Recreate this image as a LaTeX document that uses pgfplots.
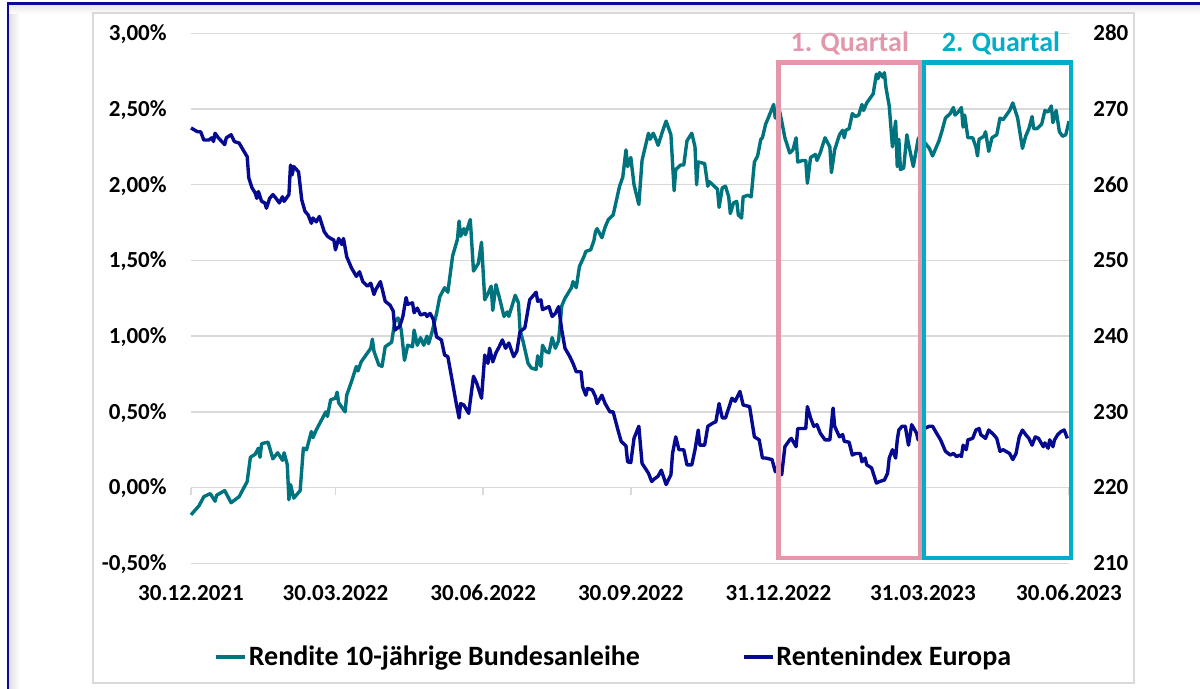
\documentclass[border=0pt]{standalone}
\usepackage{fontspec}
\setmainfont{Carlito}
\usepackage{pgfplots}
\usepackage{pgfplotstable}
\pgfplotsset{compat=1.18}

\definecolor{rendite}{RGB}{0,116,126}
\definecolor{renten}{RGB}{5,10,145}
\definecolor{qone}{RGB}{226,152,170}
\definecolor{qtwo}{RGB}{0,174,200}
\definecolor{gridc}{RGB}{217,217,217}
\definecolor{framec}{RGB}{10,10,150}

\newcommand{\tickfont}{\bfseries\fontsize{11.5}{13}\selectfont}

% days since 30.12.2021, yield in percent
\pgfplotstableread{
day val
0 -0.18
5 -0.12
8 -0.06
12 -0.04
15 -0.09
16 -0.05
21 -0.02
25 -0.10
30 -0.06
35 0.04
37 0.20
40 0.22
42 0.26
43 0.20
44 0.29
48 0.30
51 0.19
54 0.23
57 0.18
58 0.23
60 0.15
61 -0.08
62 0.02
64 -0.07
68 -0.02
70 0.26
72 0.25
75 0.37
76 0.33
78 0.38
84 0.50
85 0.47
87 0.58
90 0.59
91 0.63
92 0.56
96 0.50
97 0.61
100 0.70
103 0.80
104 0.77
106 0.83
112 0.92
113 0.98
114 0.90
117 0.81
119 0.80
121 0.93
125 0.96
127 1.10
129 1.12
131 1.04
133 0.84
135 0.94
138 0.93
139 1.04
141 0.94
143 0.99
145 0.94
147 1.00
148 0.95
150 1.02
153 1.15
155 1.26
158 1.32
160 1.29
163 1.53
166 1.64
167 1.76
168 1.66
170 1.71
171 1.67
174 1.77
176 1.43
179 1.48
181 1.62
183 1.24
185 1.28
187 1.33
188 1.17
190 1.34
192 1.26
195 1.13
197 1.16
198 1.13
202 1.27
204 1.22
205 1.04
207 0.96
210 0.82
212 0.79
215 0.78
216 0.87
218 0.80
219 0.94
221 0.90
223 0.89
225 0.99
227 0.92
229 0.97
231 1.20
233 1.25
237 1.32
238 1.36
240 1.32
242 1.46
245 1.53
246 1.56
249 1.57
251 1.63
252 1.69
253 1.71
256 1.65
258 1.72
260 1.77
263 1.80
267 1.99
269 2.05
271 2.23
272 2.12
274 2.18
276 2.00
279 1.87
281 2.16
285 2.34
286 2.30
288 2.34
290 2.29
291 2.26
294 2.36
296 2.42
299 2.33
301 1.96
302 2.10
305 2.13
307 2.13
309 2.29
312 2.34
314 2.25
315 2.00
316 2.15
320 2.14
322 1.99
323 2.02
326 1.99
328 1.97
329 1.85
331 1.98
333 1.99
335 1.92
336 1.81
338 1.88
340 1.89
341 1.80
343 1.78
344 1.92
347 1.93
349 1.92
351 2.15
353 2.19
355 2.30
356 2.31
358 2.40
360 2.45
363 2.53
364 2.44
366 2.52
368 2.42
370 2.31
373 2.21
375 2.23
377 2.31
378 2.15
381 2.16
383 2.16
384 2.01
386 2.18
389 2.20
390 2.16
392 2.21
395 2.31
398 2.25
399 2.08
401 2.23
404 2.33
406 2.36
407 2.31
408 2.36
410 2.37
412 2.47
414 2.45
416 2.46
418 2.53
419 2.49
421 2.54
423 2.57
425 2.60
427 2.73
428 2.70
429 2.74
431 2.71
432 2.74
433 2.64
435 2.52
437 2.25
439 2.42
440 2.12
441 2.30
442 2.10
444 2.11
446 2.33
447 2.27
450 2.12
453 2.30
454 2.32
457 2.28
460 2.24
462 2.19
466 2.29
468 2.36
470 2.44
473 2.47
475 2.51
476 2.46
478 2.48
480 2.51
481 2.38
482 2.46
484 2.31
487 2.31
489 2.25
490 2.19
491 2.30
494 2.32
495 2.35
497 2.22
499 2.31
502 2.33
504 2.44
506 2.43
508 2.46
510 2.49
512 2.54
515 2.44
518 2.24
520 2.32
522 2.37
524 2.45
525 2.37
527 2.37
530 2.40
532 2.49
534 2.48
536 2.52
537 2.41
539 2.49
541 2.35
543 2.32
545 2.33
547 2.42
}\renditetab

% days since 30.12.2021, index level
\pgfplotstableread{
day val
0 267.5
4 267.0
6 267.0
8 265.9
11 265.9
13 266.2
14 265.7
15 266.8
17 266.2
21 265.3
22 266.2
25 266.6
27 265.7
30 265.5
33 264.4
35 263.7
36 260.9
38 259.6
40 258.9
41 258.2
42 259.1
44 257.8
46 257.6
47 256.9
49 258.2
51 258.7
53 258.2
55 257.6
57 258.4
58 257.8
61 258.7
62 262.6
63 261.3
64 262.4
67 261.7
69 258.0
71 256.5
73 256.0
75 254.9
76 255.6
78 255.1
80 255.8
83 253.8
85 253.2
87 252.9
89 252.7
90 251.4
92 252.9
94 252.1
95 252.9
97 250.5
100 249.0
103 247.9
105 248.5
107 247.2
110 246.6
112 247.0
114 245.5
115 246.1
118 247.2
121 244.6
124 244.1
126 243.3
127 240.8
130 241.3
132 242.6
134 245.1
135 244.2
138 244.4
139 243.1
141 243.7
143 242.8
146 243.0
147 242.6
149 243.0
151 242.2
153 239.9
156 239.5
158 237.5
160 237.3
163 233.8
165 231.4
167 229.2
168 231.1
170 230.9
173 229.8
176 234.7
178 233.8
181 231.8
183 237.5
185 236.4
186 238.4
188 236.6
190 237.8
192 238.6
194 239.5
196 238.4
198 239.1
201 237.3
203 238.0
205 240.6
208 241.1
211 244.8
215 245.8
216 244.6
218 244.8
219 243.5
222 243.8
223 243.9
225 242.6
227 243.0
229 243.9
231 240.8
233 238.4
236 237.3
238 236.4
240 235.3
243 235.3
244 233.3
246 232.2
247 233.1
250 232.9
252 232.0
253 231.1
256 232.2
258 231.1
261 230.0
263 230.0
266 227.6
268 226.1
271 225.5
272 223.4
274 223.3
276 226.5
279 228.1
281 223.2
285 221.9
287 220.8
289 221.2
291 221.5
293 222.3
296 220.4
299 221.7
300 224.5
302 226.7
304 225.0
307 225.0
309 223.0
312 223.0
314 225.0
316 227.6
317 225.6
320 225.6
322 228.1
325 228.5
327 228.7
329 231.1
331 229.2
333 229.2
335 230.5
337 231.8
339 231.4
342 232.7
344 230.9
348 230.7
351 226.7
354 226.3
356 223.9
358 223.9
362 223.7
364 222.1
366 223.0
368 221.7
370 225.4
373 226.3
374 226.5
377 225.4
378 227.8
381 227.8
383 227.8
384 230.7
386 229.2
388 228.1
390 228.3
392 227.2
395 226.3
398 226.3
400 230.5
401 228.1
404 226.7
406 227.0
407 226.1
410 226.0
412 224.3
414 224.5
417 224.5
418 223.4
420 223.9
421 223.0
424 222.6
427 220.6
429 220.8
432 221.0
434 221.9
435 223.9
437 225.0
439 223.9
440 226.3
441 227.6
443 228.1
445 228.1
447 225.6
449 228.3
452 227.2
453 226.3
454 227.0
457 227.8
460 228.1
462 228.1
465 227.0
467 226.3
470 224.8
473 224.3
475 224.5
477 224.1
479 224.3
480 224.1
481 225.6
483 225.0
484 226.3
487 226.5
489 227.6
491 227.8
492 227.0
495 226.5
497 227.6
500 227.0
502 226.5
504 224.8
506 225.0
510 224.5
512 223.7
514 224.5
516 226.7
518 227.6
520 227.0
522 226.5
524 225.6
526 226.7
528 226.5
531 225.4
532 225.9
534 225.2
535 226.3
537 225.4
538 226.3
540 227.0
542 227.4
544 227.6
546 226.5
}\rententab

\pgfplotsset{
  base/.style={
    scale only axis, width=439pt, height=265pt,
    at={(95.5pt,62.85pt)}, anchor=south west,
    xmin=0, xmax=547, clip=false,
    axis line style={draw=none}, tick style={draw=none},
    tick label style={font=\tickfont},
  }
}

\begin{document}
\begin{tikzpicture}
\path[use as bounding box] (0,0) rectangle (600pt,344.5pt);
\fill[white] (0,0) rectangle (600pt,344.5pt);
% outer frame and shadow
\shade[left color=black!12, right color=white] (4.5pt,0) rectangle (10pt,342pt);
\shade[top color=black!10, bottom color=white] (4.5pt,337.5pt) rectangle (600pt,342pt);
\draw[framec, line width=1.3pt] (4pt,0) -- (4pt,342.6pt) -- (600pt,342.6pt);
\draw[black!15, line width=0.6pt] (46.5pt,3pt) rectangle (567pt,338pt);

\begin{axis}[base,
  ymin=-0.5, ymax=3,
  ytick={-0.5,0,0.5,1,1.5,2,2.5,3},
  yticklabels={{-0,50\%},{0,00\%},{0,50\%},{1,00\%},{1,50\%},{2,00\%},{2,50\%},{3,00\%}},
  ymajorgrids, major grid style={gridc, line width=0.75pt},
  xtick={0,90,182,274,366,456,547},
  xticklabels={30.12.2021,30.03.2022,30.06.2022,30.09.2022,31.12.2022,31.03.2023,30.06.2023},
  xticklabel style={anchor=base, yshift=-18.5pt, inner sep=0pt},
  yticklabel style={anchor=base east, xshift=-12pt, yshift=-3.7pt, inner sep=0pt},
]
\draw[gridc, line width=0.75pt] (axis cs:0,0) -- (axis cs:547,0);
\draw[gridc, line width=0.75pt] (axis cs:0,0) -- ++(0pt,-3.5pt);
\draw[gridc, line width=0.75pt] (axis cs:90,0) -- ++(0pt,-3.5pt);
\draw[gridc, line width=0.75pt] (axis cs:182,0) -- ++(0pt,-3.5pt);
\draw[gridc, line width=0.75pt] (axis cs:274,0) -- ++(0pt,-3.5pt);
\draw[gridc, line width=0.75pt] (axis cs:366,0) -- ++(0pt,-3.5pt);
\draw[gridc, line width=0.75pt] (axis cs:456,0) -- ++(0pt,-3.5pt);
\draw[gridc, line width=0.75pt] (axis cs:547,0) -- ++(0pt,-3.5pt);
\addplot[rendite, line width=1.7pt, line join=round] table[x=day, y=val] {\renditetab};
\end{axis}

\begin{axis}[base,
  ymin=210, ymax=280,
  ytick={210,220,230,240,250,260,270,280},
  yticklabels={210,220,230,240,250,260,270,280},
  yticklabel pos=right, xtick=\empty,
  yticklabel style={anchor=base west, xshift=12pt, yshift=-3.7pt, inner sep=0pt},
  legend columns=2,
  legend cell align=left,
  legend image code/.code={\draw[#1] (0pt,0pt) -- (14.5pt,0pt);},
  legend style={draw=none, fill=none, at={(0.0262,-0.177)}, anchor=west,
    inner sep=0pt, font=\bfseries\fontsize{14}{16}\selectfont,
    nodes={inner xsep=1pt, inner ysep=0pt},
    /tikz/every even column/.append style={column sep=50pt}},
]
\addlegendimage{rendite, line width=1.7pt}
\addlegendentry{Rendite 10-jährige Bundesanleihe}
\addplot[renten, line width=1.7pt, line join=round] table[x=day, y=val] {\rententab};
\addlegendentry{Rentenindex Europa}
\draw[qone, line width=2.3pt] (axis cs:366.1,210.71) rectangle (axis cs:454.4,276.14);
\draw[qtwo, line width=2.3pt] (axis cs:456.6,210.71) rectangle (axis cs:548.3,276.14);
\node[qone, anchor=base, font=\bfseries\fontsize{14}{16}\selectfont, inner sep=0pt] at (axis cs:410.4,277.56) {1. Quartal};
\node[qtwo, anchor=base, font=\bfseries\fontsize{14}{16}\selectfont, inner sep=0pt] at (axis cs:504.6,277.56) {2. Quartal};
\end{axis}
\end{tikzpicture}
\end{document}
